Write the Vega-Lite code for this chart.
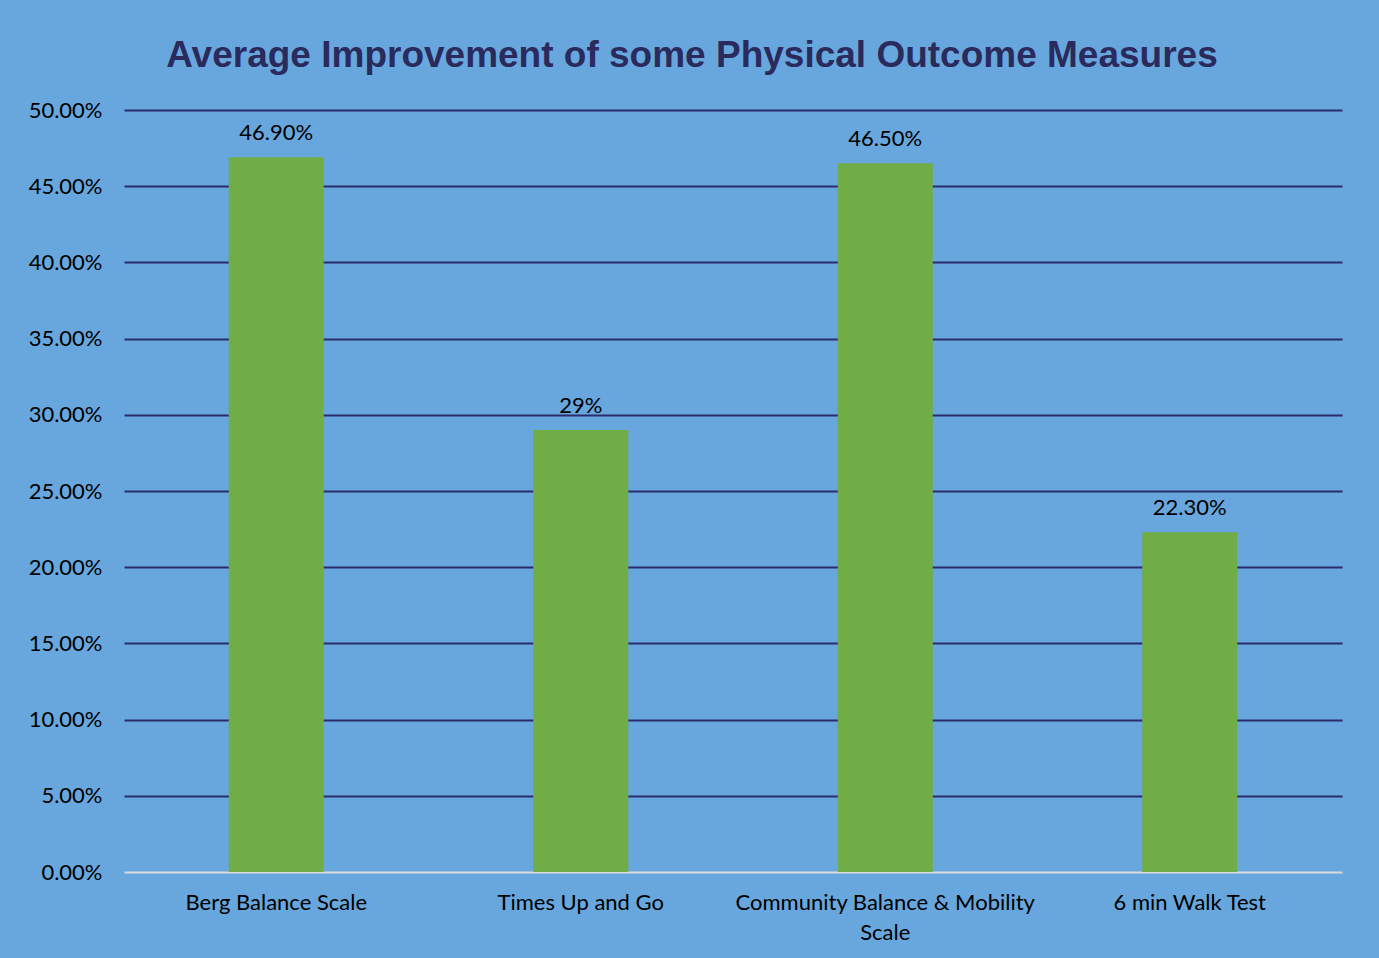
{
  "$schema": "https://vega.github.io/schema/vega-lite/v6.json",
  "width": 1218,
  "height": 762,
  "autosize": {"type": "none"},
  "padding": {"left": 124, "top": 110, "right": 37, "bottom": 86},
  "background": "#67A7DD",
  "config": {"view": {"stroke": null}, "font": "Lato"},
  "title": {
    "text": "Average Improvement of some Physical Outcome Measures",
    "font": "Liberation Sans",
    "fontSize": 37,
    "fontWeight": "bold",
    "color": "#2B2A5C",
    "anchor": "middle",
    "dx": -41,
    "offset": 24
  },
  "data": {
    "values": [
      {"measure": "Berg Balance Scale", "value": 0.469, "label": "46.90%"},
      {"measure": "Times Up and Go", "value": 0.29, "label": "29%"},
      {"measure": "Community Balance & Mobility Scale", "value": 0.465, "label": "46.50%"},
      {"measure": "6 min Walk Test", "value": 0.223, "label": "22.30%"}
    ]
  },
  "encoding": {
    "x": {
      "field": "measure",
      "type": "nominal",
      "sort": null,
      "scale": {"paddingInner": 0.688, "paddingOuter": 0.344},
      "axis": {
        "title": null,
        "labelAngle": 0,
        "labelFontSize": 22,
        "labelColor": "#000000",
        "labelPadding": 20,
        "labelLineHeight": 30,
        "labelLimit": 0,
        "ticks": false,
        "domain": false,
        "labelExpr": "datum.label == 'Community Balance & Mobility Scale' ? ['Community Balance & Mobility', 'Scale'] : datum.label"
      }
    },
    "y": {
      "field": "value",
      "type": "quantitative",
      "scale": {"domain": [0, 0.5], "nice": false},
      "axis": {
        "title": null,
        "format": ".2%",
        "values": [0, 0.05, 0.1, 0.15, 0.2, 0.25, 0.3, 0.35, 0.4, 0.45, 0.5],
        "labelFontSize": 22,
        "labelColor": "#000000",
        "labelPadding": 22,
        "ticks": false,
        "domain": false,
        "gridWidth": 2,
        "gridColor": {"condition": {"test": "datum.value === 0", "value": "#D9D9D9"}, "value": "#2B2D6B"}
      }
    }
  },
  "layer": [
    {"mark": {"type": "bar", "color": "#70AD47"}},
    {
      "mark": {"type": "text", "baseline": "alphabetic", "dy": -17, "fontSize": 22, "color": "#000000"},
      "encoding": {"text": {"field": "label"}}
    }
  ]
}
